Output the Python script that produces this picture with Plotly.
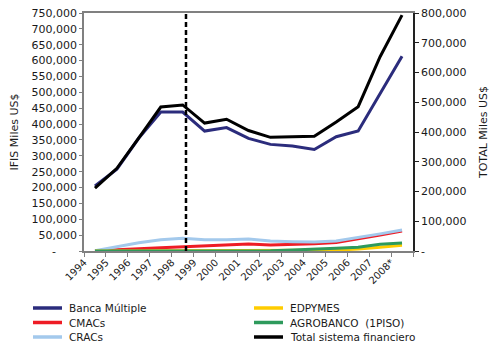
import plotly.graph_objects as go

years = ["1994", "1995", "1996", "1997", "1998", "1999", "2000", "2001",
         "2002", "2003", "2004", "2005", "2006", "2007", "2008*"]

banca_multiple = [205000, 258000, 356000, 438000, 438000, 378000, 389000, 355000,
                  336000, 331000, 320000, 360000, 378000, 496000, 614000]
cmacs = [500, 3000, 7000, 10500, 13500, 16800, 19000, 22000,
         19000, 20500, 23000, 27000, 38000, 50000, 63000]
cracs = [1000, 13500, 26000, 35600, 40000, 35600, 35600, 38000,
         31500, 29400, 28400, 31500, 42000, 54000, 66000]
edpymes = [0, 0, 0, 0, 0, 0, 0, 0, 500, 1000, 2000, 3000, 6000, 12000, 18000]
agrobanco = [0, 0, 0, 0, 0, 0, 0, 0, 1000, 3000, 5000, 8500, 12000, 21000, 25000]
total_sistema = [211000, 278000, 380000, 484000, 491000, 430000, 443000, 405000,
                 382000, 384000, 386000, 434000, 485000, 653000, 793000]

left_ticks = list(range(0, 750001, 50000))
right_ticks = list(range(0, 800001, 100000))
left_ticktext = ["-" + "\u00a0" * 6 if v == 0 else f"{v:,}" for v in left_ticks]
right_ticktext = ["-" if v == 0 else f"{v:,}" for v in right_ticks]

FONT = "DejaVu Sans"
TXT = "#1a1a1a"

series = [
    ("Banca Múltiple", banca_multiple, "#2B2C7C", "y"),
    ("CMACs", cmacs, "#EE1C25", "y"),
    ("CRACs", cracs, "#A3C9EC", "y"),
    ("EDPYMES", edpymes, "#FFCC00", "y"),
    ("AGROBANCO  (1PISO)", agrobanco, "#2E9A5C", "y"),
    ("Total sistema financiero", total_sistema, "#000000", "y2"),
]

fig = go.Figure()
for name, vals, color, yax in series:
    fig.add_trace(go.Scatter(
        x=years, y=vals, mode="lines", name=name,
        line=dict(color=color, width=3),
        yaxis=yax, showlegend=False,
    ))

fig.add_shape(type="line", xref="x", yref="paper", x0=4.15, x1=4.15, y0=0, y1=1,
              line=dict(color="black", width=2.5, dash="5px,3px"))

# Two-column legend below the chart (column 1: first three series, column 2: rest)
PLOT_L, PLOT_W, PLOT_B, PLOT_H = 84, 329, 251, 238
col_px = [33, 254]
row_px = [308, 322.5, 337]
for i, (name, vals, color, yax) in enumerate(series):
    c, r = divmod(i, 3)
    x0 = (col_px[c] - PLOT_L) / PLOT_W
    x1 = (col_px[c] + 29 - PLOT_L) / PLOT_W
    xt = (col_px[c] + 34 - PLOT_L) / PLOT_W
    yy = (PLOT_B - row_px[r]) / PLOT_H
    fig.add_shape(type="line", xref="paper", yref="paper", x0=x0, x1=x1, y0=yy, y1=yy,
                  line=dict(color=color, width=3.5))
    fig.add_annotation(xref="paper", yref="paper", x=xt, y=yy, text=name,
                       showarrow=False, xanchor="left", yanchor="middle",
                       font=dict(family=FONT, size=10.5, color=TXT))

fig.update_layout(
    width=492, height=343, autosize=False,
    margin=dict(l=84, r=79, t=13, b=92),
    paper_bgcolor="white", plot_bgcolor="white",
    font=dict(family=FONT, size=10.5, color=TXT),
    showlegend=False,
    xaxis=dict(
        type="category", range=[-0.5, 14.5], tickson="boundaries",
        automargin=False,
        ticks="outside", ticklen=4, tickcolor="#808080",
        showline=True, linecolor="#808080", linewidth=1.5, mirror=True,
        showgrid=False, tickangle=-45, ticklabelshift=-11,
        tickfont=dict(family=FONT, size=10, color=TXT),
    ),
    yaxis=dict(
        range=[0, 750000], tickvals=left_ticks, ticktext=left_ticktext,
        automargin=False,
        ticks="outside", ticklen=3, tickcolor="#808080",
        showline=True, linecolor="#808080", linewidth=1.5,
        showgrid=False, zeroline=False,
        tickfont=dict(family=FONT, size=11, color=TXT),
        title=dict(text="IFIS Miles US$", standoff=11,
                   font=dict(family=FONT, size=11, color=TXT)),
    ),
    yaxis2=dict(
        overlaying="y", side="right", anchor="x",
        automargin=False,
        range=[0, 800000], tickvals=right_ticks, ticktext=right_ticktext,
        ticks="outside", ticklen=4, tickcolor="#222222",
        showline=True, linecolor="#222222", linewidth=1.5,
        showgrid=False, zeroline=False,
        tickfont=dict(family=FONT, size=11, color=TXT),
        title=dict(text="TOTAL Miles US$", standoff=14,
                   font=dict(family=FONT, size=11, color=TXT)),
    ),
)

fig.write_html("out.html", config={"displayModeBar": False},
               post_script="document.body.style.margin='0';document.body.style.overflow='hidden';")
